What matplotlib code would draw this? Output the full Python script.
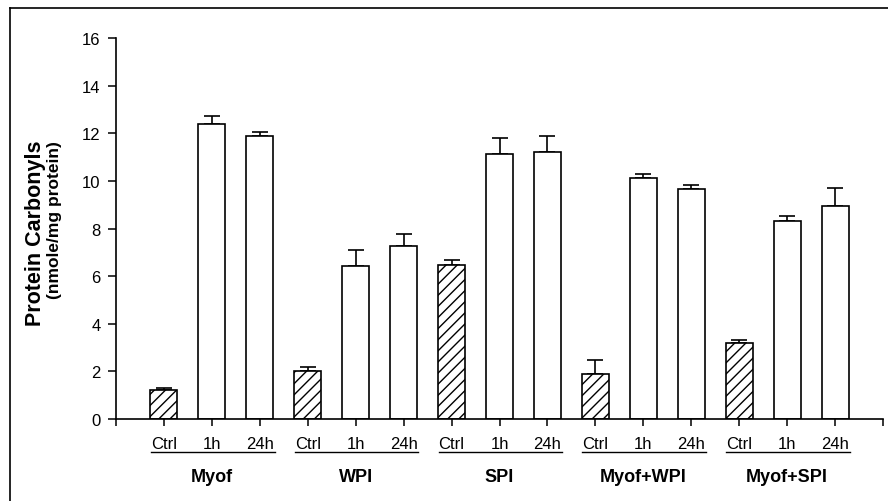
import matplotlib.pyplot as plt
import matplotlib.transforms as mtransforms
from matplotlib.lines import Line2D
import numpy as np

plt.rcParams['font.family'] = ['Liberation Sans', 'DejaVu Sans']
plt.rcParams['hatch.linewidth'] = 1.0

# dados
grupos = ['Myof', 'WPI', 'SPI', 'Myof+WPI', 'Myof+SPI']
tempos = ['Ctrl', '1h', '24h']
valores = [1.20, 12.39, 11.88,
           2.03, 6.44, 7.28,
           6.47, 11.13, 11.23,
           1.89, 10.11, 9.65,
           3.19, 8.32, 8.96]
erros = [0.12, 0.33, 0.18,
         0.14, 0.67, 0.48,
         0.21, 0.67, 0.67,
         0.60, 0.18, 0.18,
         0.14, 0.22, 0.75]

fig = plt.figure(figsize=(8.88, 5.02), dpi=100)
ax = fig.add_axes([0.1306, 0.1633, 0.8638, 0.759])

x = np.arange(len(valores))
hatches = ['///' if i % 3 == 0 else '' for i in range(len(valores))]
barras = ax.bar(x, valores, width=0.56, color='white', edgecolor='black',
                linewidth=1.2, zorder=2)
for b, h in zip(barras, hatches):
    b.set_hatch(h)

ax.errorbar(x, valores, yerr=[np.zeros(len(erros)), erros], fmt='none',
            ecolor='black', elinewidth=1.2, capsize=5.6, capthick=1.2, zorder=1)

ax.set_xlim(-1, 15)
ax.set_ylim(0, 16)
ax.set_yticks(range(0, 17, 2))
ax.set_yticklabels([str(v) for v in range(0, 17, 2)], fontsize=12)

ticks_x = [-1] + list(x) + [15]
rotulos_x = [''] + tempos * len(grupos) + ['']
ax.set_xticks(ticks_x)
ax.set_xticklabels(rotulos_x, fontsize=12)
ax.tick_params(axis='y', direction='out', length=6, width=1.1, pad=5)
ax.tick_params(axis='x', direction='out', length=5, width=1.1, pad=7)

for s in ['top', 'right']:
    ax.spines[s].set_visible(False)
for s in ['left', 'bottom']:
    ax.spines[s].set_linewidth(1.2)

# sublinhados e nomes dos grupos
trans = mtransforms.blended_transform_factory(ax.transData, fig.transFigure)
for g, nome in enumerate(grupos):
    x0 = g * 3 - 0.27
    x1 = g * 3 + 2.31
    ax.add_line(Line2D([x0, x1], [0.0976, 0.0976], transform=trans,
                       color='black', linewidth=1.0, clip_on=False))
    ax.text(g * 3 + 1, 0.0498, nome, transform=trans, ha='center', va='center',
            fontsize=13, fontweight='bold')

# rótulo do eixo y (duas linhas, alinhadas no topo)
fig.text(35 / 888, 1 - 141 / 502, 'Protein Carbonyls', rotation=90, ha='center', va='top',
         fontsize=15.5, fontweight='bold')
fig.text(55 / 888, 1 - 141 / 502, '(nmole/mg protein)', rotation=90, ha='center', va='top',
         fontsize=12.5, fontweight='bold')

# moldura
fig.add_artist(Line2D([10 / 888, 10 / 888], [0, 1 - 9 / 502], transform=fig.transFigure,
                      color='black', linewidth=1.2))
fig.add_artist(Line2D([10 / 888, 1], [1 - 9 / 502, 1 - 9 / 502], transform=fig.transFigure,
                      color='black', linewidth=1.2))

fig.savefig('out.png', dpi=100)
